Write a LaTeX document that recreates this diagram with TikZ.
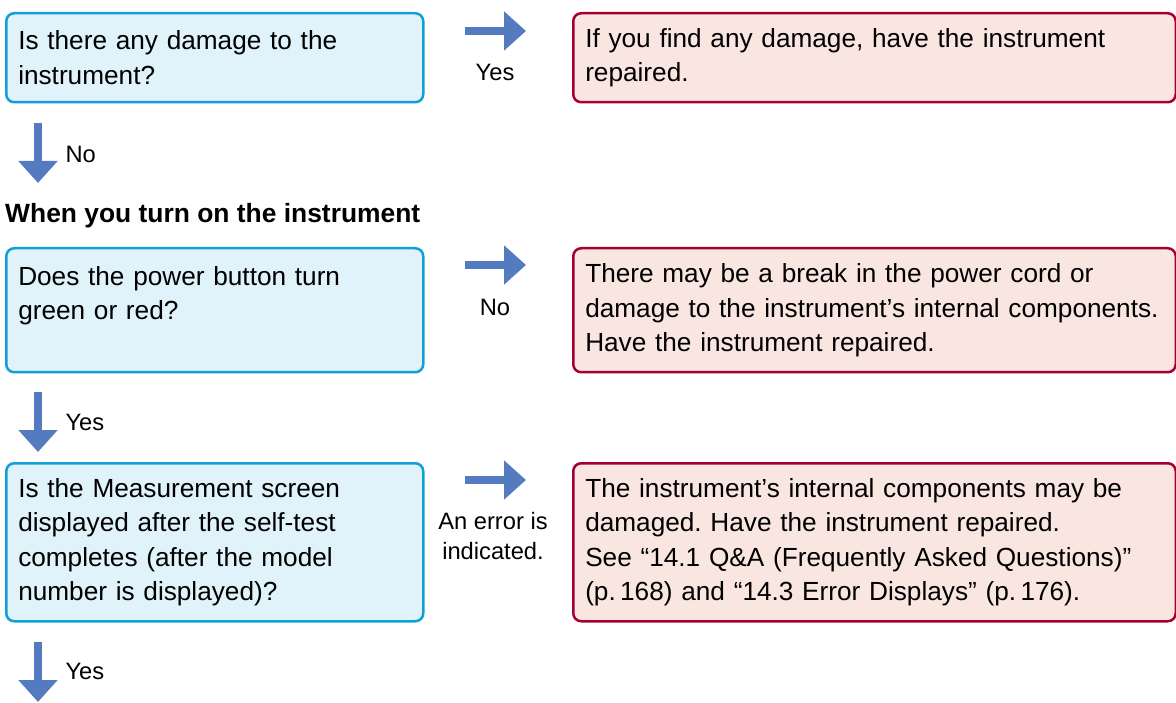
\documentclass[tikz,border=0pt]{standalone}
\usepackage{fontspec}
\setmainfont{Liberation Sans}
\usetikzlibrary{arrows.meta}
\definecolor{askline}{RGB}{16,160,215}
\definecolor{askfill}{RGB}{224,242,250}
\definecolor{fixline}{RGB}{165,0,52}
\definecolor{fixfill}{RGB}{250,230,225}
\definecolor{flowblue}{RGB}{84,122,192}
\frenchspacing
\begin{document}
\begin{tikzpicture}[x=1pt, y=-1pt,
  font=\fontsize{26.2}{34.5}\selectfont,
  ask/.style={draw=askline, fill=askfill, line width=2.5pt,
    rounded corners=8pt, anchor=north west, text width=393pt,
    inner xsep=12pt, align=left},
  fix/.style={draw=fixline, fill=fixfill, line width=2.5pt,
    rounded corners=8pt, anchor=north west, text width=578.5pt,
    inner xsep=12pt, align=left},
  flow/.style={draw=flowblue, line width=8pt,
    -{Triangle[length=22pt,width=38pt]}},
  lbl/.style={font=\fontsize{23.7}{30}\selectfont, align=center},
  head/.style={font=\fontsize{26.4}{30}\selectfont\bfseries, anchor=west, inner sep=0pt}]
\useasboundingbox (0,0) rectangle (1176,703);

% questions
\node[ask, minimum height=89pt] (q1) at (5,12)
  {Is there any damage to the\\instrument?};
\node[head] (turnon) at (5,216) {When you turn on the instrument};
\node[ask, minimum height=124pt] (q2) at (5,247)
  {Does the power button turn\\green or red?\\\mbox{}};
\node[ask, minimum height=158pt] (q3) at (5,462)
  {Is the Measurement screen\\displayed after the self-test\\completes (after the model\\number is displayed)?};

% what to do
\node[fix, minimum height=89pt] (r1) at (572,12)
  {If you find any damage, have the instrument\\repaired.};
\node[fix, minimum height=124pt] (r2) at (572,247)
  {There may be a break in the power cord or\\damage to the instrument's internal components.\\Have the instrument repaired.};
\node[fix, minimum height=158pt] (r3) at (572,462)
  {The instrument's internal components may be\\damaged. Have the instrument repaired.\\See ``14.1 Q\&A (Frequently Asked Questions)''\\(p.\,168) and ``14.3 Error Displays'' (p.\,176).};

% arrows
\coordinate (y1s) at (465,31);  \coordinate (y1e) at (526,31);
\coordinate (y2s) at (465,265); \coordinate (y2e) at (526,265);
\coordinate (y3s) at (465,480); \coordinate (y3e) at (526,480);
\coordinate (d1s) at (38,123);  \coordinate (d1e) at (38,183);
\coordinate (d2s) at (38,392);  \coordinate (d2e) at (38,452);
\coordinate (d3s) at (38,642);  \coordinate (d3e) at (38,702);
\draw[flow] (y1s) -- (y1e);
\draw[flow] (y2s) -- (y2e);
\draw[flow] (y3s) -- (y3e);
\draw[flow] (d1s) -- (d1e);
\draw[flow] (d2s) -- (d2e);
\draw[flow] (d3s) -- (d3e);

\node[lbl] (l1) at (495,72) {Yes};
\node[lbl] (l2) at (495,307) {No};
\node[lbl] (l3) at (493,536) {An error is\\indicated.};
\node[lbl, anchor=west] (m1) at (62,154) {No};
\node[lbl, anchor=west] (m2) at (62,422) {Yes};
\node[lbl, anchor=west] (m3) at (62,671) {Yes};
\end{tikzpicture}
\end{document}
